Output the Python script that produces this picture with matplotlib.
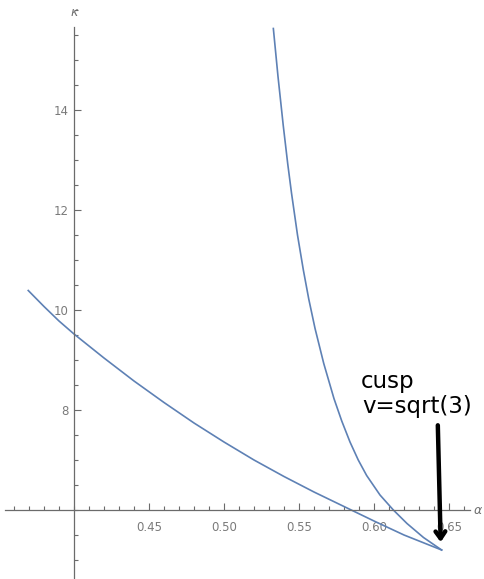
import numpy as np
import matplotlib
matplotlib.use("Agg")
import matplotlib.pyplot as plt
from matplotlib.ticker import MultipleLocator, FixedLocator

# branches (alpha, kappa)
upper_alpha = [0.5329, 0.5360, 0.5395, 0.5425, 0.5450, 0.5490, 0.5529, 0.5565,
               0.5607, 0.5665, 0.5733, 0.5785, 0.5840, 0.5895, 0.5951, 0.6040,
               0.6129, 0.6220, 0.6330, 0.6451]
upper_kappa = [15.63, 14.67, 13.69, 12.92, 12.34, 11.50, 10.80, 10.22,
               9.63, 8.93, 8.23, 7.78, 7.36, 7.00, 6.69, 6.30,
               6.00, 5.73, 5.45, 5.20]

lower_alpha = [0.3695, 0.380, 0.390, 0.400, 0.420, 0.440, 0.460, 0.480,
               0.500, 0.520, 0.540, 0.560, 0.580, 0.600, 0.620, 0.6451]
lower_kappa = [10.39, 10.07, 9.78, 9.52, 9.04, 8.58, 8.15, 7.74,
               7.36, 7.00, 6.67, 6.36, 6.07, 5.78, 5.50, 5.20]

x_ticks = [0.45, 0.50, 0.55, 0.60, 0.65]
x_labels = ["0.45", "0.50", "0.55", "0.60", "0.65"]
y_ticks = [8, 10, 12, 14]
y_labels = ["8", "10", "12", "14"]

line_col = "#5E81B5"
axis_col = "#6b6b6b"

fig = plt.figure(figsize=(4.85, 5.79), dpi=100)
ax = fig.add_axes([0, 0, 1, 1])
ax.set_xlim(0.35067, 0.674)
ax.set_ylim(4.62, 16.2)

ax.plot(upper_alpha, upper_kappa, color=line_col, lw=1.2)
ax.plot(lower_alpha, lower_kappa, color=line_col, lw=1.2)

# mathematica style crossing axes
for s in ["top", "right"]:
    ax.spines[s].set_visible(False)
ax.spines["left"].set_position(("data", 0.40))
ax.spines["bottom"].set_position(("data", 6.0))
ax.spines["left"].set_bounds(4.62, 15.66)
ax.spines["bottom"].set_bounds(0.354, 0.664)
for s in ["left", "bottom"]:
    ax.spines[s].set_color(axis_col)
    ax.spines[s].set_linewidth(0.9)

ax.xaxis.set_major_locator(FixedLocator(x_ticks))
ax.set_xticklabels(x_labels)
ax.xaxis.set_minor_locator(FixedLocator([round(0.36 + 0.01 * i, 2) for i in range(31)]))
ax.yaxis.set_major_locator(FixedLocator(y_ticks))
ax.set_yticklabels(y_labels)
ax.yaxis.set_minor_locator(MultipleLocator(0.5))

ax.tick_params(which="both", direction="in", color=axis_col, width=0.8,
               labelcolor="#7a7a7a", labelsize=8.5)
ax.tick_params(which="major", length=5)
ax.tick_params(which="minor", length=3)
ax.tick_params(axis="x", pad=8)
ax.tick_params(axis="y", pad=4)
ax.set_facecolor("white")

ax.text(0.4, 15.95, "κ", color="#707070", fontsize=9, style="italic",
        ha="center", va="center")
ax.text(0.6693, 6.0, "α", color="#707070", fontsize=9, style="italic",
        ha="center", va="center")

ax.text(0.5915, 8.45, "cusp", fontsize=16.5, family="DejaVu Sans", color="black")
ax.text(0.5922, 7.93, "v=sqrt(3)", fontsize=16.5, family="DejaVu Sans", color="black")
ax.annotate("", xy=(0.6445, 5.3), xytext=(0.6425, 7.75),
            arrowprops=dict(arrowstyle="->,head_length=0.5,head_width=0.35",
                            lw=3.2, color="black"))

fig.savefig("out.png", dpi=100)
